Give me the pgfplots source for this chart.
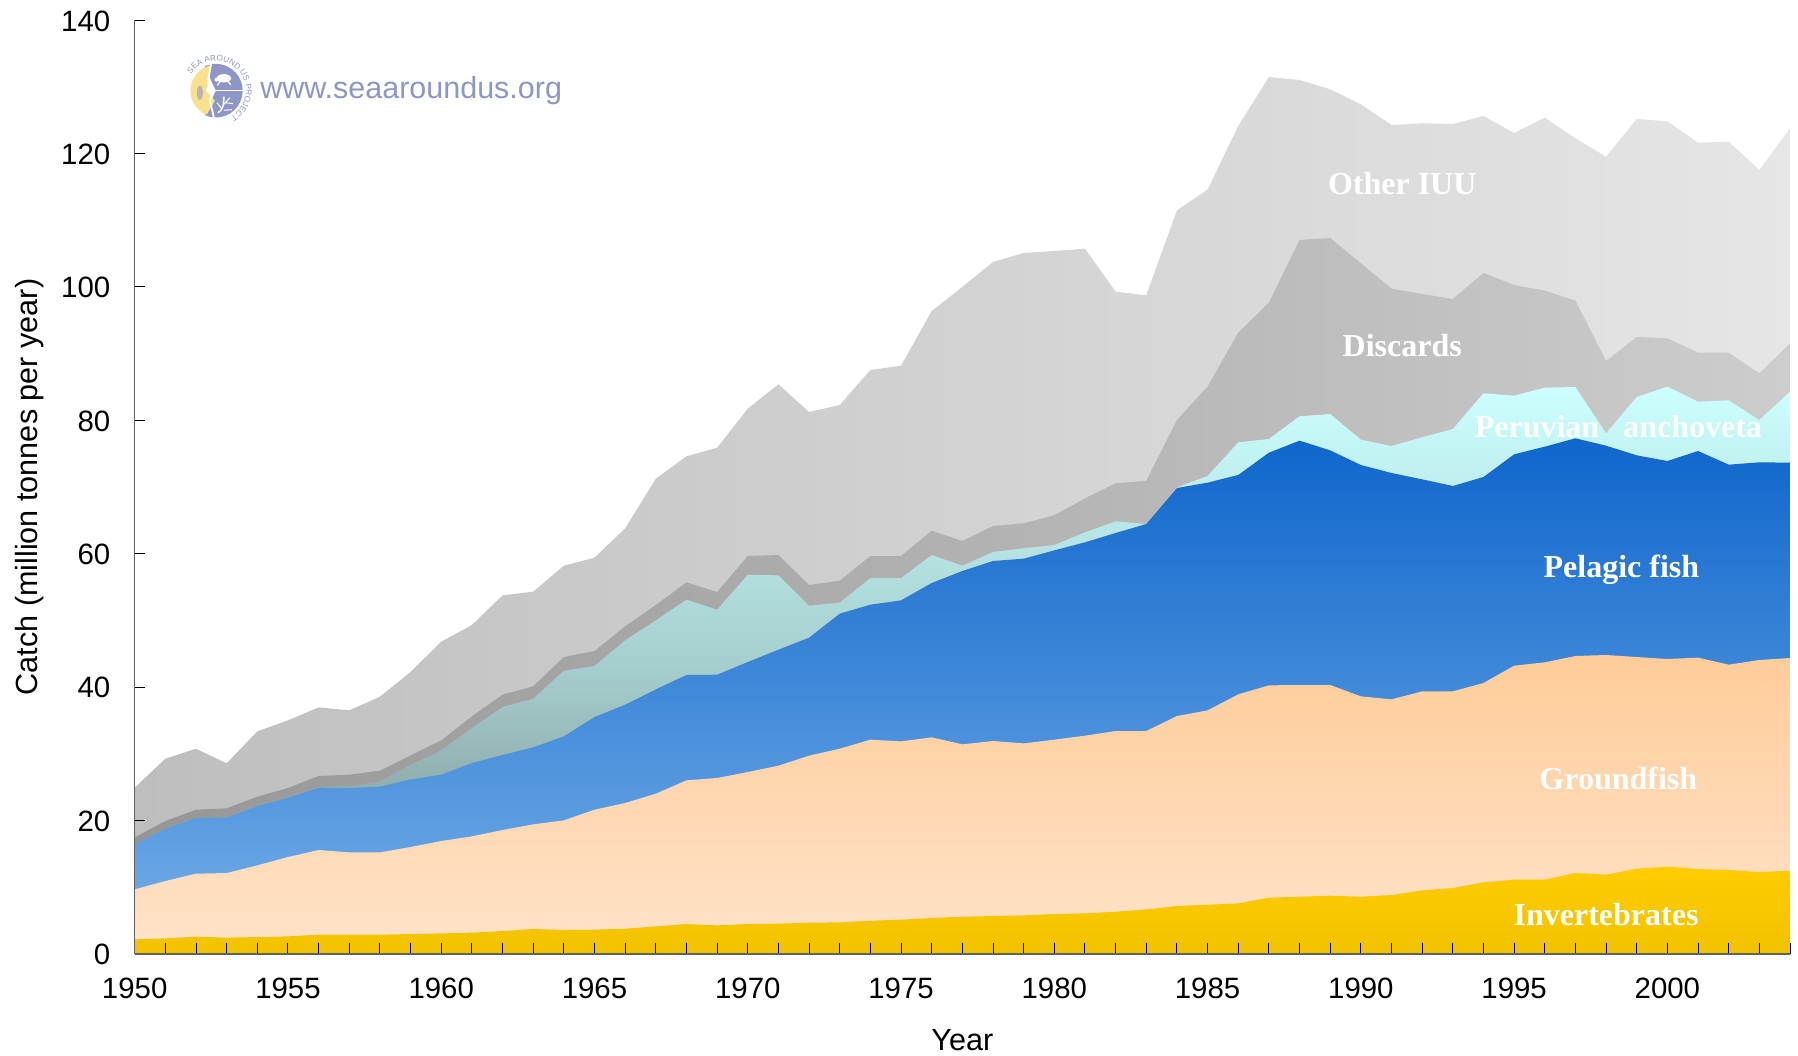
\documentclass[border=0pt]{standalone}
\usepackage{fontspec}
\setmainfont{Liberation Sans}
\newfontfamily\serifb{Liberation Serif}[BoldFont=Liberation Serif Bold]
\usepackage{pgfplots}
\usepackage{pgfplotstable}
\pgfplotsset{compat=1.18}
\usetikzlibrary{decorations.text}
\definecolor{othL}{RGB}{190,190,190}
\definecolor{othR}{RGB}{230,230,230}
\definecolor{disL}{RGB}{150,150,150}
\definecolor{disR}{RGB}{205,205,205}
\definecolor{perT}{RGB}{204,255,255}
\definecolor{perM}{RGB}{165,205,205}
\definecolor{perB}{RGB}{115,130,130}
\definecolor{pelT}{RGB}{15,102,204}
\definecolor{pelB}{RGB}{118,175,231}
\definecolor{groT}{RGB}{255,204,153}
\definecolor{groB}{RGB}{255,227,202}
\definecolor{invT}{RGB}{255,204,0}
\definecolor{invB}{RGB}{242,194,0}
\definecolor{logoB}{RGB}{142,150,200}
\definecolor{logoY}{RGB}{250,224,140}
\pgfplotstableread{
year inv gro pel per dis tot
1950 2.15 9.65 16.4 16.5 17.45 24.9
1951 2.3 10.9 18.75 18.85 19.9 29.25
1952 2.55 12.0 20.35 20.45 21.6 30.75
1953 2.4 12.1 20.4 20.5 21.8 28.55
1954 2.5 13.25 22.15 22.25 23.55 33.35
1955 2.6 14.5 23.4 23.5 24.85 35.0
1956 2.85 15.55 24.9 25.0 26.65 36.95
1957 2.85 15.2 24.85 25.15 26.85 36.5
1958 2.85 15.2 25.05 25.85 27.45 38.55
1959 2.95 16.0 26.15 28.35 29.75 42.25
1960 3.05 16.9 26.85 30.5 32.0 46.8
1961 3.15 17.6 28.6 33.85 35.6 49.3
1962 3.4 18.55 29.8 37.0 38.85 53.75
1963 3.7 19.4 30.95 38.25 40.1 54.3
1964 3.55 20.0 32.6 42.45 44.5 58.2
1965 3.6 21.6 35.5 43.15 45.4 59.4
1966 3.75 22.6 37.35 47.0 49.1 63.8
1967 4.1 24.0 39.65 50.0 52.3 71.25
1968 4.45 26.0 41.8 53.1 55.7 74.6
1969 4.25 26.35 41.85 51.6 54.25 75.9
1970 4.45 27.25 43.75 56.85 59.65 81.75
1971 4.5 28.2 45.6 56.75 59.8 85.4
1972 4.65 29.7 47.4 52.2 55.3 81.25
1973 4.7 30.75 51.0 52.65 55.95 82.3
1974 4.95 32.1 52.35 56.35 59.65 87.55
1975 5.1 31.85 53.0 56.35 59.65 88.2
1976 5.35 32.45 55.6 59.8 63.45 96.4
1977 5.55 31.4 57.4 58.2 61.9 100.0
1978 5.65 31.9 58.9 60.25 64.15 103.75
1979 5.75 31.55 59.25 60.8 64.55 105.1
1980 5.95 32.1 60.5 61.3 65.75 105.4
1981 6.05 32.7 61.7 63.2 68.3 105.75
1982 6.3 33.4 63.1 64.85 70.55 99.3
1983 6.65 33.4 64.45 64.45 70.95 98.75
1984 7.15 35.65 69.85 69.95 80.05 111.5
1985 7.35 36.5 70.65 71.65 85.05 114.6
1986 7.55 38.9 71.8 76.7 93.15 124.15
1987 8.4 40.25 75.15 77.2 97.65 131.5
1988 8.55 40.3 76.95 80.6 107.05 131.05
1989 8.7 40.3 75.5 80.95 107.35 129.65
1990 8.55 38.6 73.3 77.1 103.55 127.4
1991 8.8 38.15 72.1 76.15 99.75 124.3
1992 9.5 39.35 71.15 77.45 98.95 124.55
1993 9.85 39.35 70.15 78.7 98.2 124.45
1994 10.7 40.6 71.5 84.05 102.1 125.65
1995 11.1 43.2 74.9 83.7 100.3 123.1
1996 11.1 43.7 76.05 84.9 99.45 125.4
1997 12.1 44.65 77.3 85.0 97.95 122.3
1998 11.85 44.8 76.2 78.05 88.9 119.55
1999 12.75 44.5 74.75 83.5 92.5 125.2
2000 13.05 44.2 73.9 85.05 92.3 124.85
2001 12.7 44.4 75.4 82.8 90.15 121.65
2002 12.55 43.35 73.35 83.0 90.15 121.8
2003 12.25 44.05 73.7 80.05 87.05 117.55
2004 12.45 44.35 73.65 84.3 91.55 123.8
}\catch
\begin{document}
\begin{tikzpicture}[x=1pt,y=1pt]
\useasboundingbox (-67.35pt,-50.65pt) rectangle (831.65pt,476.85pt);
\begin{axis}[
  at={(0pt,0pt)},anchor=origin,
  scale only axis,width=827.65pt,height=466.7pt,
  xmin=1950,xmax=2004,ymin=0,ymax=140,
  axis x line*=bottom,axis y line*=left,
  axis on top,
  tick align=inside,
  xtick={1950,1955,...,2000},
  minor xtick={1950,1951,...,2004},
  ytick={0,20,...,140},
  major tick length=5.3pt,minor tick length=5.3pt,
  every tick/.style={black,line width=0.5pt},
  minor tick style={black,line width=0.5pt},
  axis line style={black!62,line width=0.8pt},
  tick label style={font=\fontsize{14.7}{16}\selectfont},
  /pgf/number format/assume math mode=true,
  /pgf/number format/1000 sep={},
  xticklabel style={yshift=-8.7pt},
  yticklabel style={xshift=-8.7pt,yshift=-0.4pt},
  xlabel={Year},ylabel={Catch (million tonnes per year)},
  label style={font=\fontsize{15.3}{17}\selectfont},
  xlabel style={at={(axis description cs:0.5,-0.0925)},anchor=center},
  ylabel style={at={(axis description cs:-0.0635,0.5)},anchor=center},
]
\addplot[draw=none,shade,left color=othL,right color=othR] table[x=year,y=tot]{\catch} \closedcycle;
\addplot[draw=none,shade,left color=disL,right color=disR] table[x=year,y=dis]{\catch} \closedcycle;
\addplot[draw=none,shade,bottom color=perB,top color=perT,middle color=perM] table[x=year,y=per]{\catch} \closedcycle;
\addplot[draw=none,shade,top color=pelT,bottom color=pelB] table[x=year,y=pel]{\catch} \closedcycle;
\addplot[draw=none,shade,top color=groT,bottom color=groB] table[x=year,y=gro]{\catch} \closedcycle;
\addplot[draw=none,shade,top color=invT,bottom color=invB] table[x=year,y=inv]{\catch} \closedcycle;
\begin{scope}[every node/.style={text=white,font=\serifb\bfseries\fontsize{16}{18}\selectfont,anchor=center}]
\node at (axis cs:1991.35,115.45) {Other IUU};
\node at (axis cs:1991.35,91.15) {Discards};
\node at (axis cs:1998.4,79.1) {Peruvian\ \ \ anchoveta};
\node at (axis cs:1998.5,57.6) {Pelagic fish};
\node at (axis cs:1998.4,26.3) {Groundfish};
\node at (axis cs:1998.0,5.85) {Invertebrates};
\end{scope}
\end{axis}
% logo
\begin{scope}[shift={(40.6pt,431.5pt)}]
\fill[logoB] (0,0) -- (-115:13.4pt) arc (-115:115:13.4pt) -- cycle;
\fill[logoY] (-2pt,12.8pt) arc (100:248:13pt) -- (-0.5pt,-5pt) -- (-5pt,0pt) -- cycle;
\draw[white,line width=0.9pt] (-2.5pt,13.5pt) -- (-4pt,4pt) -- (-1pt,1pt) -- (-3pt,-5pt) -- (-1pt,-13.5pt);
\draw[white,line width=0.5pt] (0,0) -- (13.4pt,0pt);
% turtle
\fill[white] (4pt,6.2pt) ellipse (3.6pt and 2.1pt);
\fill[white] (0.3pt,5.5pt) circle (1pt);
\draw[white,line width=0.6pt] (2pt,4.6pt) -- (0.8pt,2.6pt) (6pt,4.6pt) -- (7.5pt,3pt);
% coral
\draw[white,line width=0.7pt] (1pt,-11pt) .. controls (3pt,-10pt) and (4pt,-8pt) .. (4pt,-3pt);
\draw[white,line width=0.5pt] (3.8pt,-7pt) -- (7pt,-3.5pt) (4.8pt,-6pt) -- (8.5pt,-6.5pt) (3pt,-9pt) -- (0.5pt,-6pt) (4pt,-9.8pt) -- (8pt,-9.5pt);
% fish
\fill[logoB!60!logoY] (-8pt,-1pt) ellipse (1.5pt and 3.6pt);
\path[decorate,decoration={text along path,text align=center,
  text={|\fontsize{4.1}{5}\selectfont\color{logoB}|SEA AROUND US PROJECT}}]
  (152:15pt) arc (152:-66:15pt);
\end{scope}
\node[anchor=west,inner sep=0pt,text=logoB,font=\fontsize{15.25}{17}\selectfont] at (62.6pt,431.6pt) {www.seaaroundus.org};
\end{tikzpicture}
\end{document}
